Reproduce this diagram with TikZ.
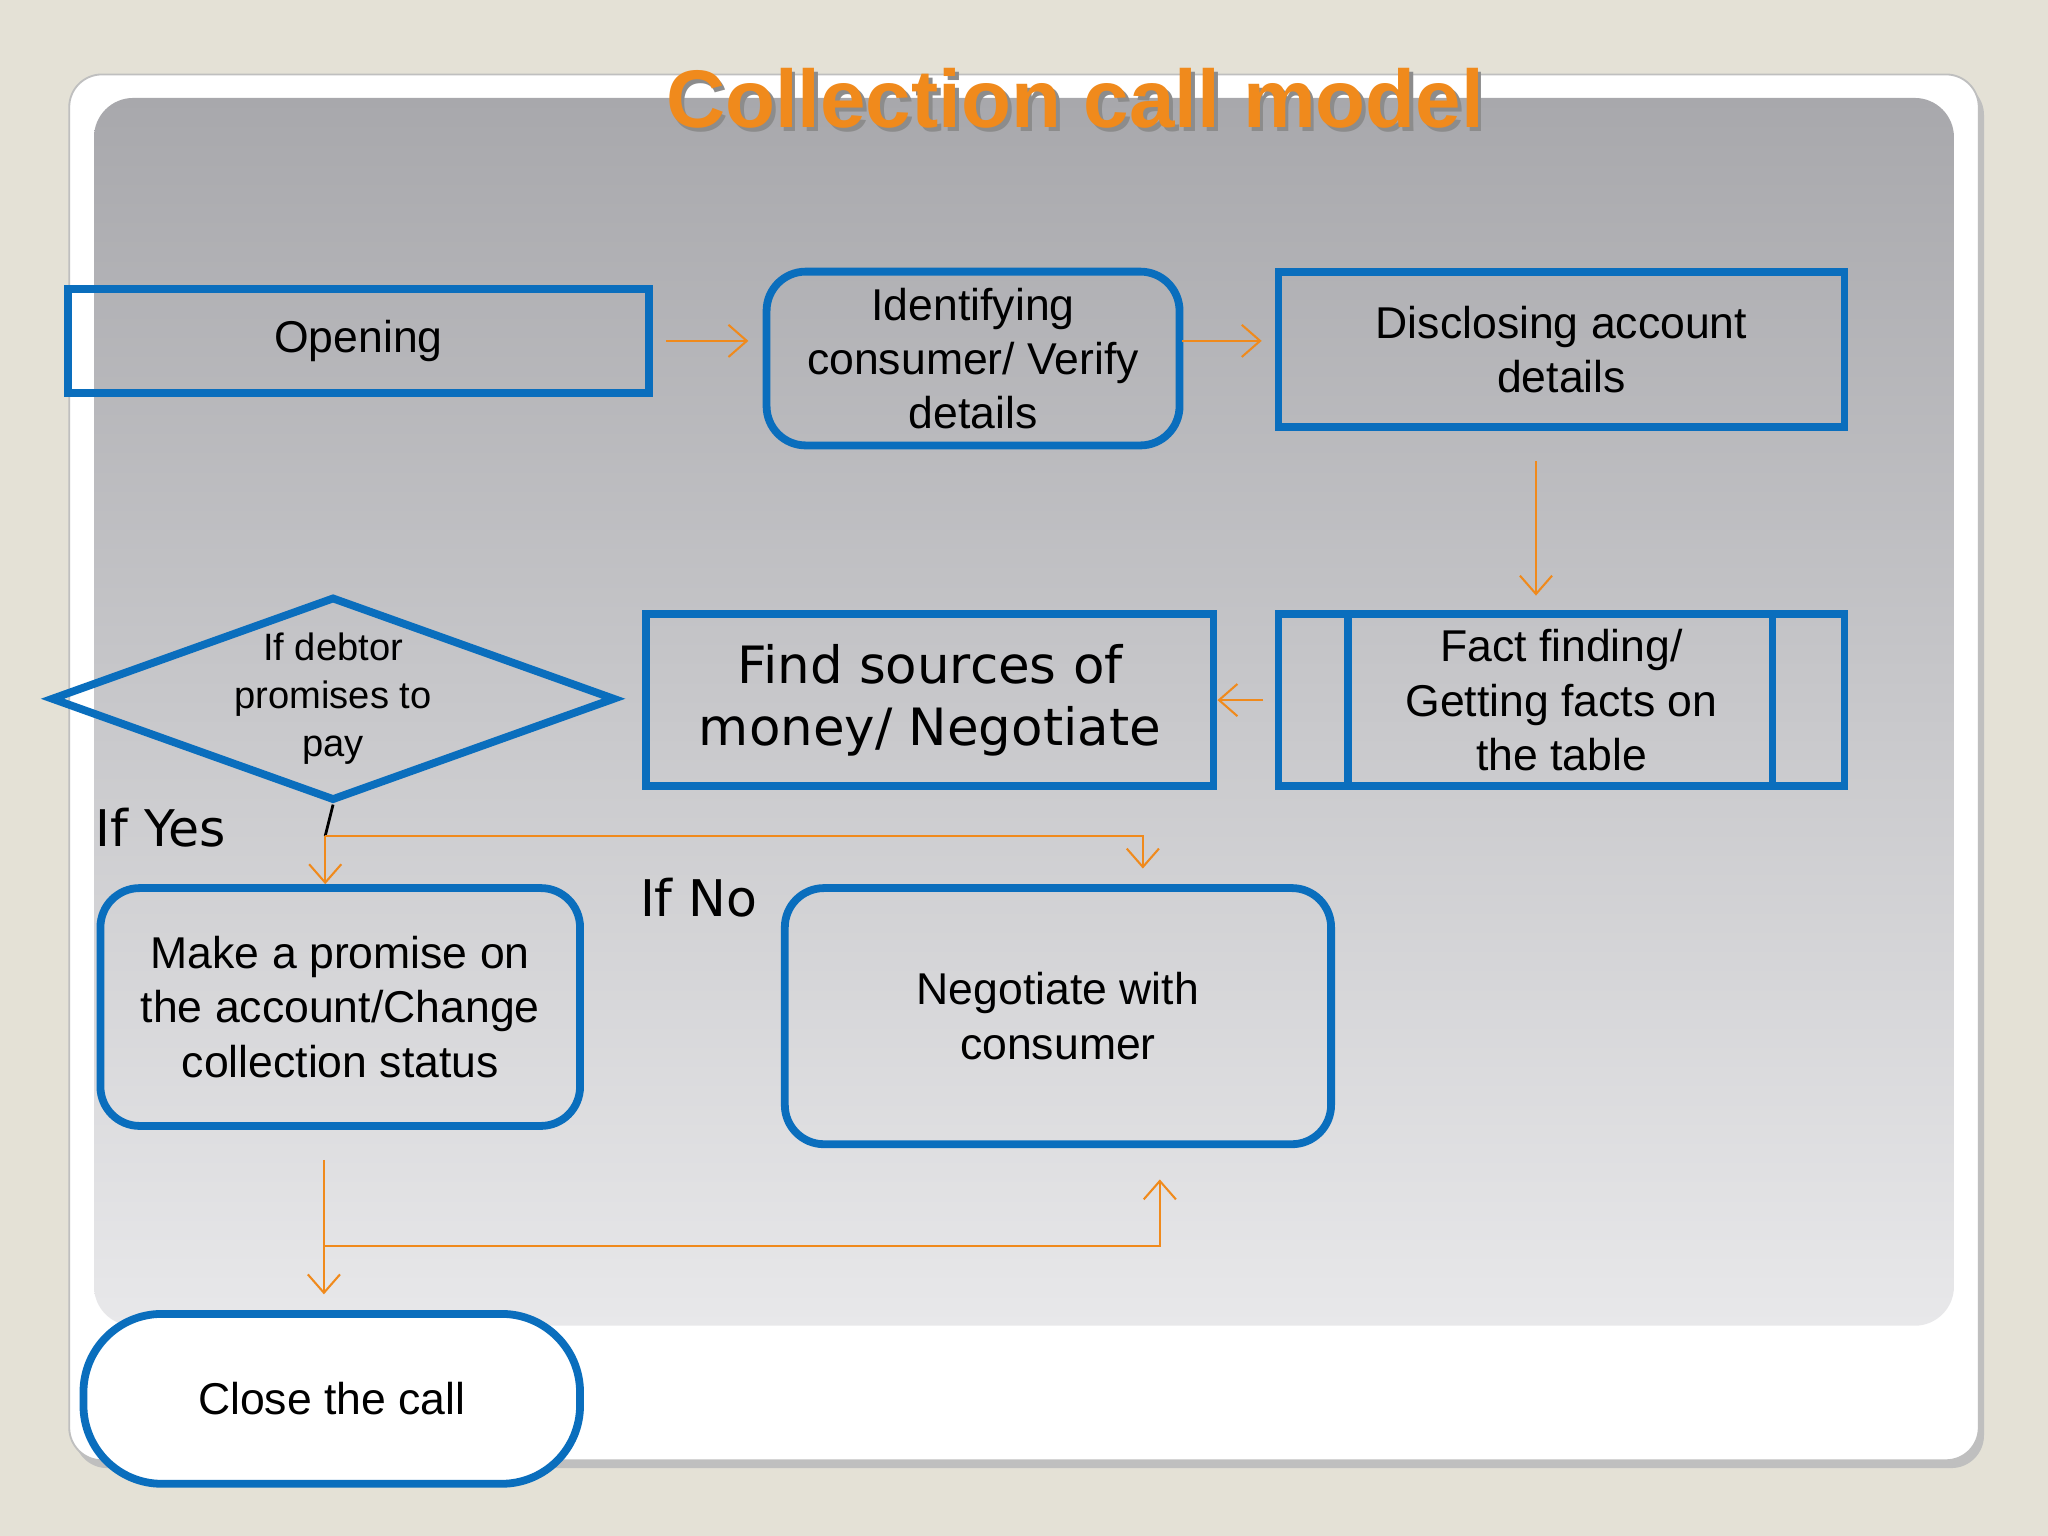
\documentclass[tikz,border=0pt]{standalone}
\usepackage{fontspec}
\setmainfont{Liberation Sans}
\newfontfamily\dvs{DejaVu Sans}
\usetikzlibrary{shapes.geometric,arrows.meta,shadows}
\definecolor{bblue}{HTML}{0A6EBD}
\definecolor{oarr}{HTML}{F08A1C}
\definecolor{bgc}{HTML}{E4E1D6}
\begin{document}
\begin{tikzpicture}[x=0.01cm,y=-0.01cm,
  box/.style={draw=bblue,line width=1.7pt,align=center,font=\fontsize{9.7}{11.8}\selectfont},
  rbox/.style={box,rounded corners=0.3cm},
  arr/.style={draw=oarr,line width=0.45pt,-{Straight Barb[length=4pt,width=7pt]}},
  lbl/.style={font=\dvs\fontsize{11}{13}\selectfont}]
\useasboundingbox (0,0) rectangle (1568,1176);
\fill[bgc] (0,0) rectangle (1568,1176);
\fill[black!25,rounded corners=0.25cm] (57,63) rectangle (1519,1124);
\filldraw[white,draw=black!25,rounded corners=0.25cm] (53,57) rectangle (1515,1118);
\shade[rounded corners=0.3cm,top color={rgb,255:red,168;green,168;blue,172},bottom color={rgb,255:red,232;green,232;blue,234}] (72,75) rectangle (1496,1015);
\node[font=\bfseries\fontsize{17.8}{20}\selectfont,text=black!45] at (826,78) {Collection call model};
\node[font=\bfseries\fontsize{17.8}{20}\selectfont,text=oarr] (title) at (823,75) {Collection call model};

\node[box,minimum width=4.45cm,minimum height=0.8cm] (open) at (274.5,261) {Opening};
\node[rbox,minimum width=3.16cm,minimum height=1.33cm] (ident) at (745,274.5) {Identifying\\consumer/ Verify\\details};
\node[box,minimum width=4.33cm,minimum height=1.19cm] (disc) at (1195.5,267.5) {Disclosing account\\details};
\node[box,minimum width=4.33cm,minimum height=1.32cm] (fact) at (1195.5,536) {Fact finding/\\Getting facts on\\the table};
\draw[bblue,line width=1.7pt] (1032,470) -- (1032,602) (1357,470) -- (1357,602);
\node[box,minimum width=4.34cm,minimum height=1.32cm,font=\dvs\fontsize{11.2}{13.6}\selectfont] (find) at (712,536) {Find sources of\\money/ Negotiate};
\node[box,diamond,aspect=2.77,minimum width=4.32cm,minimum height=1.56cm,inner sep=0pt,font=\fontsize{8.3}{10.5}\selectfont] (dia) at (255,535) {If debtor\\promises to\\pay};
\node[rbox,minimum width=3.67cm,minimum height=1.82cm] (prom) at (260.5,771) {Make a promise on\\the account/Change\\collection status};
\node[rbox,minimum width=4.18cm,minimum height=1.96cm] (neg) at (810,778) {Negotiate with\\consumer};
\node[box,fill=white,rounded corners=0.6cm,minimum width=3.8cm,minimum height=1.3cm] (close) at (254,1071) {Close the call};
\node[lbl] (yes) at (123,634) {If Yes};
\node[lbl] (no) at (535,687) {If No};

\coordinate (a1) at (510,261); \coordinate (a2) at (573,261);
\draw[arr] (a1) -- (a2);
\coordinate (b1) at (905,261); \coordinate (b2) at (966,261);
\draw[arr] (b1) -- (b2);
\coordinate (c1) at (1176,353); \coordinate (c2) at (1176,456);
\draw[arr] (c1) -- (c2);
\coordinate (d1) at (967,536);
\draw[arr] (d1) -- (find.east);
\coordinate (j) at (249,640);
\draw[black,line width=0.6pt] (dia.south) -- (j);
\draw[arr] (j) -- (prom.north -| j);
\coordinate (k) at (875,665);
\draw[arr] (j) -- (875,640) -- (k);
\coordinate (m1) at (248,888); \coordinate (m2) at (248,991);
\draw[arr] (m1) -- (m2);
\coordinate (n) at (888,903);
\draw[arr] (248,954) -- (888,954) -- (n);
\end{tikzpicture}
\end{document}
